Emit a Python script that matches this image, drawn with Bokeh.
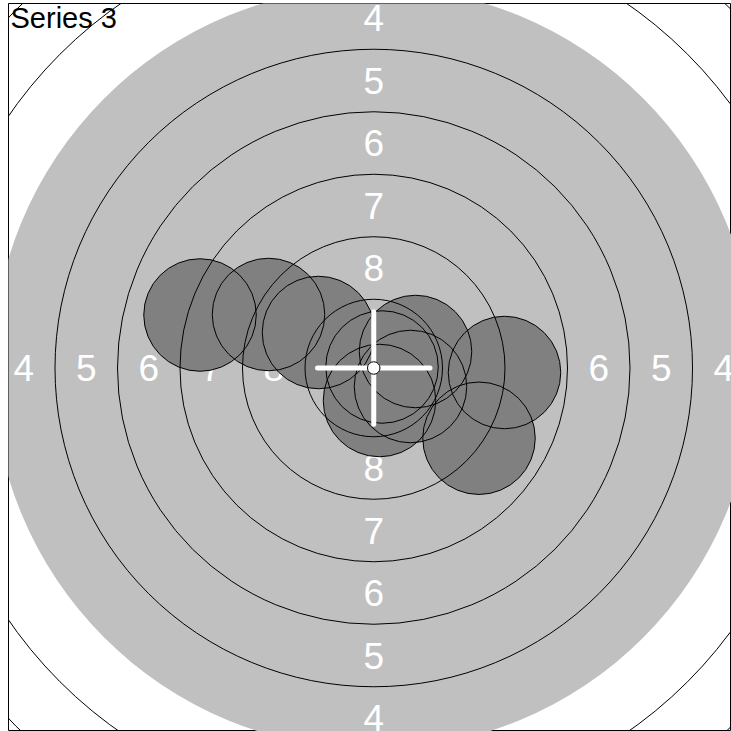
from bokeh.plotting import figure
from bokeh.models import Range1d, Label
from bokeh.core.properties import value
from bokeh.embed import file_html
from bokeh.resources import INLINE

# ISSF 10 m air-rifle target, ring diameters in mm (ring 1 .. ring 10)
ring_numbers = [1, 2, 3, 4, 5, 6, 7, 8, 9, 10]
ring_diameters = [45.5, 40.5, 35.5, 30.5, 25.5, 20.5, 15.5, 10.5, 5.5, 0.5]
black_ring = 4            # aiming mark covers rings 4..10
labelled_rings = [4, 5, 6, 7, 8]
pellet_diameter = 4.5     # mm

# Shot positions (mm from centre)
shot_x = [-6.95, -4.21, -2.21, 1.67, 0.33, 0.23, 1.47, 5.23, 4.21]
shot_y = [2.12, 2.14, 1.42, 0.66, 0.04, -1.30, -0.74, -0.18, -2.81]

series_name = "Series 3"

p = figure(width=731, height=731,
           x_range=Range1d(-14.61, 14.31), y_range=Range1d(-14.54, 14.58),
           output_backend="svg", toolbar_location=None, min_border=0,
           min_border_left=8, min_border_top=3,
           x_axis_location=None, y_axis_location=None)
p.grid.visible = False
p.outline_line_color = "black"
p.outline_line_width = 1
p.background_fill_color = "white"
p.border_fill_color = "white"

radius = {n: d / 2 for n, d in zip(ring_numbers, ring_diameters)}

# aiming mark
p.circle(x=[0], y=[0], radius=[radius[black_ring]], fill_color="#c0c0c0", line_color=None)

# ring labels (between ring n and ring n+1)
lx, ly, lt = [], [], []
for n in labelled_rings:
    r = (radius[n] + radius[n + 1]) / 2
    for dx, dy in [(0, 1), (0, -1), (-1, 0), (1, 0)]:
        lx.append(dx * r)
        ly.append(dy * r)
        lt.append(str(n))
p.text(x=lx, y=ly, text=lt, text_align="center", text_baseline="middle",
       text_font=value("Liberation Sans"), text_font_size="37px", text_color="white")

# shot fills
p.circle(x=shot_x, y=shot_y, radius=pellet_diameter / 2, fill_color="#808080",
         line_color=None)

# ring lines
line_rings = [n for n in ring_numbers if n not in (black_ring, 10)]
p.circle(x=[0] * len(line_rings), y=[0] * len(line_rings),
         radius=[radius[n] for n in line_rings], fill_color=None,
         line_color="black", line_width=1)

# shot outlines
p.circle(x=shot_x, y=shot_y, radius=pellet_diameter / 2, fill_color=None,
         line_color="black", line_width=1)

# crosshair at centre
h = pellet_diameter / 2
p.segment(x0=[-h, 0], y0=[0, -h], x1=[h, 0], y1=[0, h], line_color="white",
          line_width=5, line_cap="round")
p.circle(x=[0], y=[0], radius=[radius[10]], fill_color="white", line_color="black",
         line_width=1)

p.add_layout(Label(x=-14.53, y=14.02, text=series_name, text_baseline="alphabetic",
                   text_align="left", text_font="Liberation Sans",
                   text_font_size="29px", text_color="black"))

open("out.html", "w").write(file_html(p, INLINE))
